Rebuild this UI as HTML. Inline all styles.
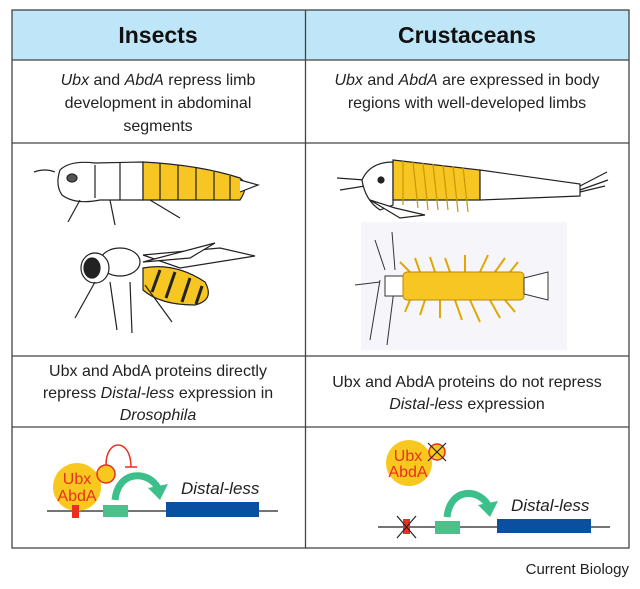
<!DOCTYPE html>
<html><head><style>
html,body{margin:0;padding:0;background:#fff;width:640px;height:589px;overflow:hidden}
svg{display:block}
text{font-family:"Liberation Sans",Arial,sans-serif}
</style></head><body>
<svg width="640" height="589" viewBox="0 0 640 589" xmlns="http://www.w3.org/2000/svg">
<rect x="12" y="10" width="617" height="50" fill="#bfe6f8"/>
<g stroke="#444" stroke-width="1.3" fill="none">
<rect x="12" y="10" width="617" height="538"/>
<line x1="305.5" y1="10" x2="305.5" y2="548"/>
<line x1="12" y1="60" x2="629" y2="60"/>
<line x1="12" y1="143" x2="629" y2="143"/>
<line x1="12" y1="356" x2="629" y2="356"/>
<line x1="12" y1="427" x2="629" y2="427"/>
</g>
<text x="158" y="43" font-size="23" font-weight="bold" text-anchor="middle" fill="#111">Insects</text>
<text x="467" y="43" font-size="23" font-weight="bold" text-anchor="middle" fill="#111">Crustaceans</text>
<g font-size="16" fill="#222" text-anchor="middle">
<text x="158" y="85"><tspan font-style="italic">Ubx</tspan> and <tspan font-style="italic">AbdA</tspan> repress limb</text>
<text x="158" y="108">development in abdominal</text>
<text x="158" y="131">segments</text>
<text x="467" y="85"><tspan font-style="italic">Ubx</tspan> and <tspan font-style="italic">AbdA</tspan> are expressed in body</text>
<text x="467" y="108">regions with well-developed limbs</text>
<text x="158" y="376">Ubx and AbdA proteins directly</text>
<text x="158" y="398">repress <tspan font-style="italic">Distal-less</tspan> expression in</text>
<text x="158" y="420" font-style="italic">Drosophila</text>
<text x="467" y="387">Ubx and AbdA proteins do not repress</text>
<text x="467" y="409"><tspan font-style="italic">Distal-less</tspan> expression</text>
</g>
<!-- larva -->
<g stroke="#222" stroke-width="1.2">
<path d="M34,172 Q45,168 55,172" fill="none"/>
<path d="M60,170 Q70,160 95,163 L143,162 L143,200 L100,200 Q75,205 62,195 Q55,185 60,170Z" fill="#fff"/>
<path d="M143,162 Q200,165 240,178 Q250,185 240,200 L143,200Z" fill="#f7c623"/>
<path d="M240,180 L258,185 L240,192" fill="#fff"/>
<g fill="none"><line x1="160" y1="163" x2="160" y2="200"/><line x1="178" y1="165" x2="178" y2="200"/><line x1="196" y1="168" x2="196" y2="200"/><line x1="214" y1="172" x2="214" y2="200"/><line x1="230" y1="176" x2="230" y2="200"/>
<line x1="80" y1="200" x2="68" y2="222"/><line x1="110" y1="200" x2="115" y2="225"/><line x1="150" y1="200" x2="180" y2="218"/><line x1="95" y1="165" x2="95" y2="198"/><line x1="120" y1="163" x2="120" y2="200"/></g>
<ellipse cx="72" cy="178" rx="5" ry="4" fill="#555"/>
</g>
<!-- wasp -->
<g stroke="#222" stroke-width="1.2">
<path d="M143,255 L220,248 L255,256 L180,268Z" fill="#fff"/>
<path d="M143,262 L215,243 L190,258Z" fill="#fff"/>
<ellipse cx="120" cy="262" rx="20" ry="14" fill="#fff"/>
<ellipse cx="95" cy="268" rx="14" ry="15" fill="#fff"/>
<ellipse cx="92" cy="268" rx="8" ry="10" fill="#222"/>
<path d="M143,268 Q175,262 205,282 Q215,300 195,305 Q160,305 143,290Z" fill="#f7c623"/>
<g fill="none" stroke-width="3"><line x1="160" y1="270" x2="152" y2="292"/><line x1="175" y1="272" x2="166" y2="298"/><line x1="190" y1="278" x2="182" y2="302"/><line x1="202" y1="286" x2="196" y2="304"/></g>
<g fill="none"><line x1="95" y1="282" x2="75" y2="318"/><line x1="110" y1="282" x2="117" y2="330"/><line x1="130" y1="282" x2="132" y2="333"/><line x1="145" y1="285" x2="172" y2="322"/></g>
</g>
<!-- crust top -->
<g stroke="#222" stroke-width="1.2">
<line x1="337" y1="178" x2="365" y2="180"/><line x1="340" y1="190" x2="365" y2="186"/>
<path d="M362,180 Q370,162 393,162 L393,205 L380,210 Q365,200 362,180Z" fill="#fff"/>
<path d="M370,200 L400,218 L425,215 L395,208Z" fill="#fff"/>
<circle cx="381" cy="180" r="3" fill="#222"/>
<path d="M393,160 L480,170 L480,200 L393,200Z" fill="#f7c623"/>
<g stroke="#c89a00" fill="none"><line x1="403" y1="161" x2="403" y2="205"/><line x1="413" y1="162" x2="418" y2="208"/><line x1="423" y1="163" x2="428" y2="210"/><line x1="433" y1="164" x2="438" y2="210"/><line x1="443" y1="165" x2="448" y2="210"/><line x1="453" y1="166" x2="458" y2="212"/><line x1="463" y1="167" x2="468" y2="212"/></g>
<path d="M480,170 L580,184 L580,196 L480,200Z" fill="#fff"/>
<path d="M580,186 L607,172 M580,190 L608,180 M580,192 L605,186" fill="none"/>
</g>
<!-- crust bottom -->
<rect x="361" y="222" width="206" height="128" fill="#f6f6fa"/>
<g stroke="#333" stroke-width="1" fill="none">
<path d="M375,240 L385,270 M392,232 L395,270 M380,280 L370,340 M395,282 L387,345 M355,285 L380,282"/>
<g stroke="#e0a800" stroke-width="2"><path d="M410,272 L400,262 M420,272 L415,258 M435,272 L430,257 M450,272 L445,258 M465,272 L465,255 M480,272 L488,255 M495,272 L505,258 M510,272 L518,262 M410,300 L405,312 M425,300 L420,315 M440,300 L440,318 M455,300 L462,320 M470,300 L480,322 M490,300 L500,318 M505,300 L515,312"/></g>
</g>
<rect x="385" y="276" width="18" height="20" fill="#fff" stroke="#333"/>
<rect x="403" y="272" width="121" height="28" rx="4" fill="#f7c623" stroke="#b88800"/>
<path d="M524,278 L548,272 L548,300 L524,294Z" fill="#fff" stroke="#333"/>
<!-- bottom left diagram -->
<line x1="47" y1="511" x2="278" y2="511" stroke="#222" stroke-width="1.3"/>
<circle cx="77" cy="487" r="24" fill="#f9c81e"/>
<circle cx="106" cy="474" r="9" fill="#f9c81e" stroke="#e63020" stroke-width="1.5"/>
<path d="M106,465 C106,438 131,438 131,467" fill="none" stroke="#e63020" stroke-width="1.5"/>
<line x1="125" y1="467" x2="137" y2="467" stroke="#e63020" stroke-width="1.5"/>
<text x="77" y="484" font-size="16" fill="#e63020" text-anchor="middle">Ubx</text>
<text x="77" y="501" font-size="16" fill="#e63020" text-anchor="middle">AbdA</text>
<rect x="72" y="505" width="7" height="13" fill="#e63020"/>
<rect x="103" y="505" width="25" height="12" fill="#4dbf8a"/>
<rect x="166" y="502" width="93" height="15" fill="#0a4fa0"/>
<path d="M115,500 C118,470 148,470 158,488" fill="none" stroke="#3cbf8a" stroke-width="7"/>
<path d="M148,488 L168,484 L160,500Z" fill="#3cbf8a"/>
<text x="181" y="494" font-size="17" font-style="italic" fill="#222">Distal-less</text>
<!-- bottom right diagram -->
<line x1="378" y1="527" x2="610" y2="527" stroke="#222" stroke-width="1.3"/>
<circle cx="409" cy="463" r="23" fill="#f9c81e"/>
<circle cx="437" cy="452" r="8" fill="#f9c81e" stroke="#e63020" stroke-width="1.5"/>
<path d="M428,443 L446,461 M446,443 L428,461" stroke="#222" stroke-width="1.2"/>
<text x="408" y="461" font-size="16" fill="#e63020" text-anchor="middle">Ubx</text>
<text x="408" y="477" font-size="16" fill="#e63020" text-anchor="middle">AbdA</text>
<rect x="403" y="519" width="7" height="15" fill="#e63020"/>
<path d="M397,516 L416,538 M416,516 L397,538" stroke="#222" stroke-width="1.2"/>
<rect x="435" y="521" width="25" height="13" fill="#4dbf8a"/>
<rect x="497" y="519" width="94" height="14" fill="#0a4fa0"/>
<path d="M447,517 C450,488 478,488 488,505" fill="none" stroke="#3cbf8a" stroke-width="7"/>
<path d="M478,505 L498,501 L490,517Z" fill="#3cbf8a"/>
<text x="511" y="511" font-size="17" font-style="italic" fill="#222">Distal-less</text>
<text x="629" y="574" font-size="15" fill="#222" text-anchor="end">Current Biology</text>
</svg>
</body></html>
